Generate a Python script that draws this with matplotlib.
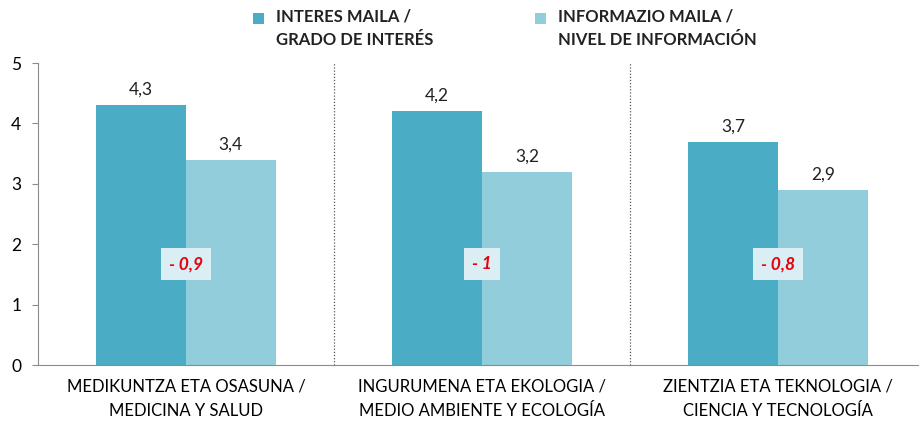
import matplotlib
matplotlib.use("Agg")
import matplotlib.pyplot as plt
from matplotlib.patches import Rectangle
import numpy as np

plt.rcParams['font.family'] = ['Lato', 'DejaVu Sans']

categories = ["MEDIKUNTZA ETA OSASUNA /\nMEDICINA Y SALUD",
              "INGURUMENA ETA EKOLOGIA /\nMEDIO AMBIENTE Y ECOLOGÍA",
              "ZIENTZIA ETA TEKNOLOGIA /\nCIENCIA Y TECNOLOGÍA"]
interes = [4.3, 4.2, 3.7]
informazio = [3.4, 3.2, 2.9]
diff_labels = ["- 0,9", "- 1", "- 0,8"]
series_names = ["INTERES MAILA /\nGRADO DE INTERÉS",
                "INFORMAZIO MAILA /\nNIVEL DE INFORMACIÓN"]

dark = "#4BACC6"
light = "#92CDDC"
box_color = "#DAEEF3"
gray = "#8C8C8C"

fig = plt.figure(figsize=(9.19, 4.23), dpi=100)
ax = fig.add_axes([38/919, 1 - 365/423, 888/919, (365 - 63)/423])

x = np.arange(len(categories))
w = 0.303
ax.bar(x - w/2, interes, width=w, color=dark)
ax.bar(x + w/2, informazio, width=w, color=light)

def fmt(v):
    return ("%.1f" % v).replace(".", ",")

for xi, a, b in zip(x, interes, informazio):
    ax.text(xi - w/2, a + 0.12, fmt(a), ha="center", va="bottom", fontsize=12.5, color="#222222")
    ax.text(xi + w/2, b + 0.12, fmt(b), ha="center", va="bottom", fontsize=12.5, color="#222222")

for xi, lab in zip(x, diff_labels):
    ax.text(xi, 1.67, lab, ha="center", va="center", fontsize=12.5, color="#E8000B",
            fontweight="bold", fontstyle="italic",
            bbox=dict(boxstyle="square,pad=0.45", facecolor=box_color, edgecolor="none"))

for sep in [0.5, 1.5]:
    ax.plot([sep, sep], [0, 5], linestyle=(0, (1, 1.5)), color="#555555", linewidth=0.9)

ax.set_xlim(-0.5, 2.5)
ax.set_ylim(0, 5)
ax.set_yticks([0, 1, 2, 3, 4, 5])
ax.set_yticklabels(["0", "1", "2", "3", "4", "5"], fontsize=12.5)
ax.set_xticks(x)
ax.set_xticklabels(categories, fontsize=12, linespacing=1.65)
ax.tick_params(axis="x", length=0, pad=10)
ax.tick_params(axis="y", length=4, direction="out", color=gray, pad=8)
for s in ["top", "right"]:
    ax.spines[s].set_visible(False)
ax.spines["left"].set_color(gray)
ax.spines["bottom"].set_color(gray)

# legend
for sx, col, name in zip([253, 535], [dark, light], series_names):
    fig.patches.append(Rectangle((sx/919, 1 - 24/423), 11/919, 11/423,
                                 transform=fig.transFigure, facecolor=col, edgecolor="none"))
    fig.text((sx + 23)/919, 1 - 8/423, name, ha="left", va="top", fontsize=12,
             fontweight="bold", color="#222222", linespacing=1.6)

fig.savefig("out.png", dpi=100)
